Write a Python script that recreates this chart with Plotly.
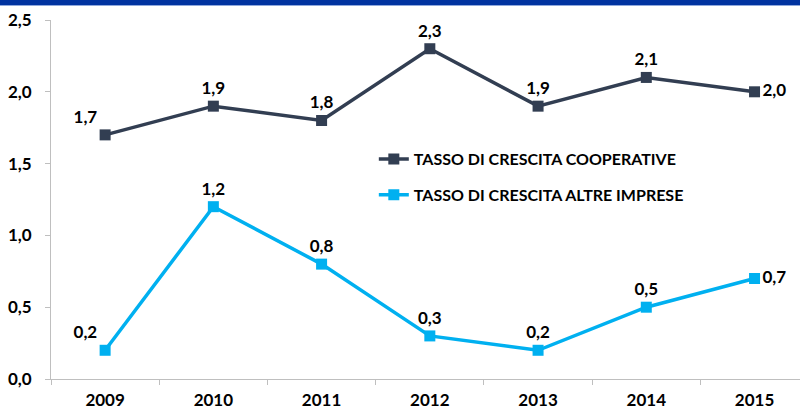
import plotly.graph_objects as go

years = ["2009", "2010", "2011", "2012", "2013", "2014", "2015"]
coop = [1.7, 1.9, 1.8, 2.3, 1.9, 2.1, 2.0]
altre = [0.2, 1.2, 0.8, 0.3, 0.2, 0.5, 0.7]
coop_pos = ["top left", "top center", "top center", "top center", "top center", "top center", "middle right"]
altre_pos = ["top left", "top center", "top center", "top center", "top center", "top center", "middle right"]
names = ["TASSO DI CRESCITA COOPERATIVE", "TASSO DI CRESCITA ALTRE IMPRESE"]

FONT = "Lato"
lab_font = dict(family=FONT, size=17, color="black", weight="bold")

fig = go.Figure()
fig.add_trace(go.Scatter(
    x=years, y=coop, name=names[0], mode="lines+markers+text", legendgroup="a",
    line=dict(color="#323e52", width=3.5),
    marker=dict(symbol="square", size=11, color="#323e52"),
    text=[f"{v:.1f}".replace(".", ",") for v in coop],
    textposition=coop_pos, textfont=lab_font, cliponaxis=False,
))
fig.add_trace(go.Scatter(
    x=years, y=altre, name=names[1], mode="lines+markers+text", legendgroup="b",
    line=dict(color="#00b0f0", width=3.5),
    marker=dict(symbol="square", size=11, color="#00b0f0"),
    text=[f"{v:.1f}".replace(".", ",") for v in altre],
    textposition=altre_pos, textfont=lab_font, cliponaxis=False,
))

fig.update_layout(
    width=800, height=412,
    margin=dict(l=51, r=0, t=20, b=33),
    paper_bgcolor="white", plot_bgcolor="white",
    separators=", ",
    font=dict(family=FONT, color="black"),
    showlegend=True,
    legend=dict(x=0.431, y=0.66, xanchor="left", yanchor="top",
                font=dict(family=FONT, size=16, color="black", weight="bold"),
                bgcolor="rgba(0,0,0,0)", traceorder="grouped", tracegroupgap=12, itemwidth=30),
    xaxis=dict(type="category", range=[-0.5, 6.42], tickson="boundaries", automargin=False,
               ticks="outside", ticklen=5, tickcolor="#bfbfbf",
               showline=True, linecolor="#bfbfbf", linewidth=1,
               showgrid=False, zeroline=False, ticklabelstandoff=6,
               tickfont=dict(family=FONT, size=17, color="black", weight="bold")),
    yaxis=dict(range=[0, 2.5], tickvals=[0, 0.5, 1.0, 1.5, 2.0, 2.5], tickformat=".1f",
               automargin=False,
               ticks="outside", ticklen=5, tickcolor="#bfbfbf",
               showline=True, linecolor="#bfbfbf", linewidth=1,
               showgrid=False, zeroline=False, ticklabelstandoff=10,
               tickfont=dict(family=FONT, size=17, color="black", weight="bold")),
    shapes=[
        dict(type="rect", xref="paper", yref="paper", x0=-0.1, x1=1.1,
             y0=(379 - 5) / 359, y1=1.1, fillcolor="#0033a0", line_width=0, layer="above"),
        dict(type="rect", xref="paper", yref="paper", x0=-0.1, x1=1.1,
             y0=(379 - 6) / 359, y1=(379 - 5) / 359, fillcolor="#8fa8dc", line_width=0, layer="above"),
    ],
)

fig.write_html("out.html", config={"displayModeBar": False},
               post_script="document.body.style.margin='0px';document.body.style.overflow='hidden';")
